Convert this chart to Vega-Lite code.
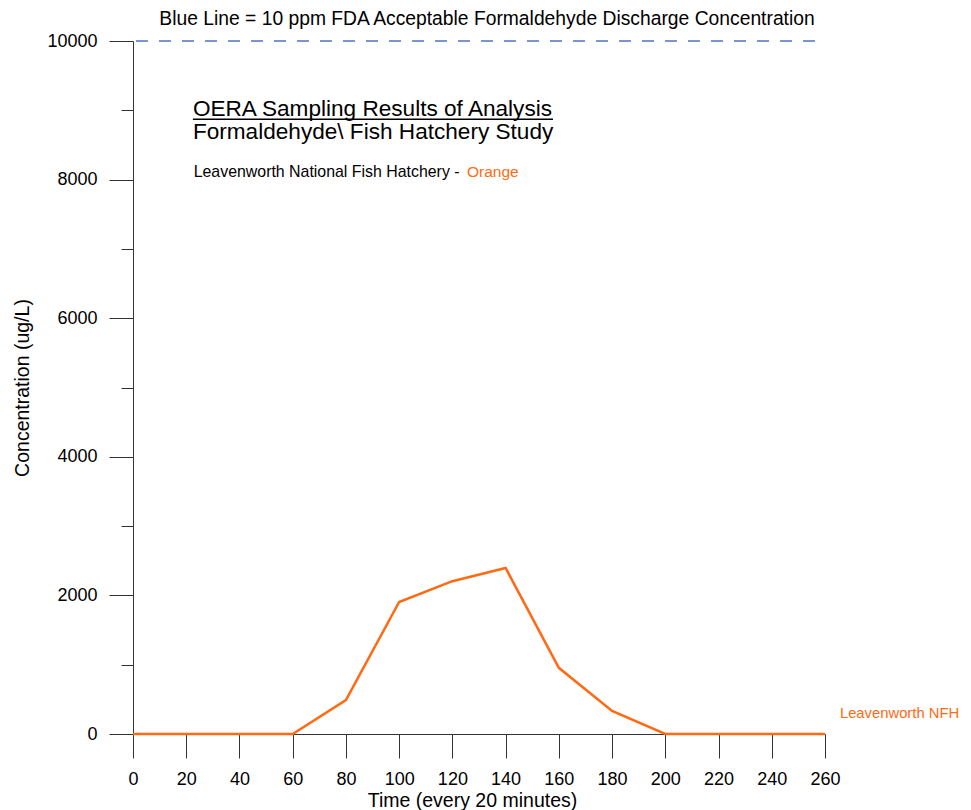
{
  "$schema": "https://vega.github.io/schema/vega-lite/v6.json",
  "width": 692,
  "height": 693,
  "autosize": {"type": "none"},
  "padding": {"left": 133, "top": 41, "right": 146, "bottom": 76},
  "background": "white",
  "config": {"view": {"stroke": null}, "font": "Liberation Sans"},
  "title": {
    "text": "Blue Line = 10 ppm FDA Acceptable Formaldehyde Discharge Concentration",
    "font": "Liberation Sans",
    "fontSize": 19.3,
    "fontWeight": "normal",
    "color": "black",
    "anchor": "middle",
    "dx": 8,
    "offset": 3
  },
  "layer": [
    {
      "data": {"values": [{"t": 0, "t2": 260, "c": 10000}]},
      "mark": {"type": "rule", "color": "#4f74c4", "strokeWidth": 1.4, "strokeDash": [12, 11], "strokeDashOffset": 20},
      "encoding": {
        "x": {"field": "t", "type": "quantitative"},
        "x2": {"field": "t2"},
        "y": {"field": "c", "type": "quantitative"}
      }
    },
    {
      "data": {"values": [
        {"t": 0, "c": 0}, {"t": 20, "c": 0}, {"t": 40, "c": 0}, {"t": 60, "c": 0},
        {"t": 80, "c": 490}, {"t": 100, "c": 1905}, {"t": 120, "c": 2205}, {"t": 140, "c": 2395},
        {"t": 160, "c": 955}, {"t": 180, "c": 332}, {"t": 200, "c": 0}, {"t": 220, "c": 0},
        {"t": 240, "c": 0}, {"t": 260, "c": 0}
      ]},
      "mark": {"type": "line", "color": "#ff6a13", "strokeWidth": 2.5, "clip": false},
      "encoding": {
        "x": {
          "field": "t", "type": "quantitative",
          "scale": {"domain": [0, 260], "nice": false, "zero": false},
          "axis": {
            "title": "Time (every 20 minutes)",
            "titleFont": "Liberation Sans", "titleFontSize": 19.5, "titleFontWeight": "normal", "titleColor": "black",
            "titlePadding": 3, "titleX": 339,
            "values": [0,10,20,30,40,50,60,70,80,90,100,110,120,130,140,150,160,170,180,190,200,210,220,230,240,250,260],
            "labelExpr": "datum.value % 20 === 0 ? datum.label : ''",
            "labelOverlap": false, "labelFlush": false,
            "labelFont": "Liberation Sans", "labelFontSize": 18, "labelColor": "black",
            "labelPadding": 12,
            "tickSize": {"condition": {"test": "datum.value % 20 !== 0", "value": 12}, "value": 24},
            "tickColor": "#333", "tickWidth": 1,
            "domainColor": "#333", "domainWidth": 1,
            "grid": false
          }
        },
        "y": {
          "field": "c", "type": "quantitative",
          "scale": {"domain": [0, 10000], "nice": false},
          "axis": {
            "title": "Concentration (ug/L)",
            "titleFont": "Liberation Sans", "titleFontSize": 19.5, "titleFontWeight": "normal", "titleColor": "black",
            "titlePadding": 14,
            "values": [0,1000,2000,3000,4000,5000,6000,7000,8000,9000,10000],
            "format": "d",
            "labelExpr": "datum.value % 2000 === 0 ? datum.label : ''",
            "labelOverlap": false, "labelFlush": false,
            "labelFont": "Liberation Sans", "labelFontSize": 18, "labelColor": "black",
            "labelPadding": 12,
            "tickSize": {"condition": {"test": "datum.value % 2000 !== 0", "value": 12}, "value": 24},
            "tickColor": "#333", "tickWidth": 1,
            "domainColor": "#333", "domainWidth": 1,
            "grid": false
          }
        }
      }
    },
    {
      "data": {"values": [
        {"t": 22.5, "c": 8918, "label": "OERA Sampling Results of Analysis"},
        {"t": 22.5, "c": 8590, "label": "Formaldehyde\\ Fish Hatchery Study"}
      ]},
      "mark": {"type": "text", "align": "left", "baseline": "alphabetic", "fontSize": 22.6, "font": "Liberation Sans", "color": "black"},
      "encoding": {
        "x": {"field": "t", "type": "quantitative"},
        "y": {"field": "c", "type": "quantitative"},
        "text": {"field": "label"}
      }
    },
    {
      "data": {"values": [{"t": 22.5, "t2": 157.8, "c": 8870}]},
      "mark": {"type": "rule", "color": "black", "strokeWidth": 1.5},
      "encoding": {
        "x": {"field": "t", "type": "quantitative"},
        "x2": {"field": "t2"},
        "y": {"field": "c", "type": "quantitative"}
      }
    },
    {
      "data": {"values": [{"t": 22.8, "c": 8038, "label": "Leavenworth National Fish Hatchery -"}]},
      "mark": {"type": "text", "align": "left", "baseline": "alphabetic", "fontSize": 15.9, "font": "Liberation Sans", "color": "black"},
      "encoding": {
        "x": {"field": "t", "type": "quantitative"},
        "y": {"field": "c", "type": "quantitative"},
        "text": {"field": "label"}
      }
    },
    {
      "data": {"values": [{"t": 125.5, "c": 8038, "label": "Orange"}]},
      "mark": {"type": "text", "align": "left", "baseline": "alphabetic", "fontSize": 15.5, "font": "Liberation Sans", "color": "#ff6a13"},
      "encoding": {
        "x": {"field": "t", "type": "quantitative"},
        "y": {"field": "c", "type": "quantitative"},
        "text": {"field": "label"}
      }
    },
    {
      "data": {"values": [{"t": 265.6, "c": 231, "label": "Leavenworth NFH"}]},
      "mark": {"type": "text", "align": "left", "baseline": "alphabetic", "fontSize": 14.8, "font": "Liberation Sans", "color": "#ff6a13"},
      "encoding": {
        "x": {"field": "t", "type": "quantitative"},
        "y": {"field": "c", "type": "quantitative"},
        "text": {"field": "label"}
      }
    }
  ]
}
